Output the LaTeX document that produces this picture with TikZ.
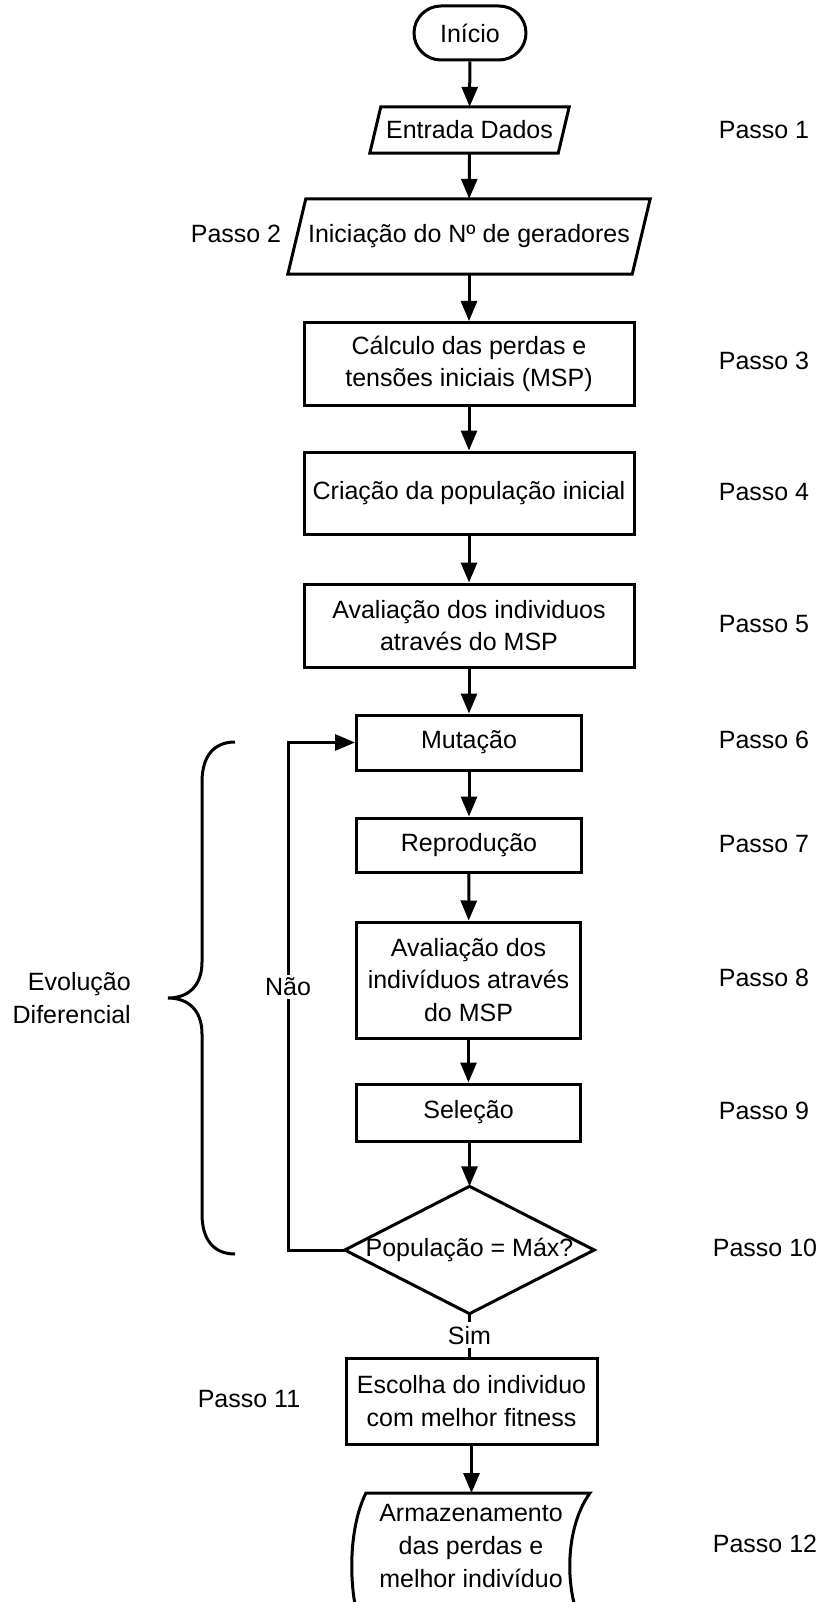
\documentclass[tikz,border=0pt]{standalone}
\usepackage{fontspec}
\setmainfont{Liberation Sans}
\usetikzlibrary{arrows.meta}
\newcommand\dfont{\fontsize{25}{32.6}\selectfont}
\begin{document}
\begin{tikzpicture}[x=1pt,y=-1pt,
  line/.style={line width=3pt},
  arr/.style={line width=3pt,-{Triangle[length=20pt,width=16pt]}},
  box/.style={draw,line width=3pt,inner sep=0pt,align=center,font=\dfont},
  ghost/.style={inner sep=0pt,align=center,font=\dfont},
  lbl/.style={inner sep=1pt,align=center,font=\dfont},
  passo/.style={inner sep=0pt,font=\dfont}]
\useasboundingbox (0,0) rectangle (821,1602);

% start terminator
\node[box,rounded corners=27pt,minimum width=112pt,minimum height=54pt] (start) at (470,33) {Início};

% input parallelograms
\node[ghost,minimum width=188pt,minimum height=46pt] (ent) at (469.5,130) {Entrada Dados};
\draw[line] ([xshift=5.5pt]ent.north west) -- ([xshift=5.5pt]ent.north east)
  -- ([xshift=-5.5pt]ent.south east) -- ([xshift=-5.5pt]ent.south west) -- cycle;
\node[ghost,minimum width=344pt,minimum height=75pt] (ini) at (469,236.5) {Iniciação do Nº de geradores};
\draw[line] ([xshift=9pt]ini.north west) -- ([xshift=9pt]ini.north east)
  -- ([xshift=-9pt]ini.south east) -- ([xshift=-9pt]ini.south west) -- cycle;

% process boxes
\node[box,minimum width=330pt,minimum height=83pt] (calc) at (469,364) {Cálculo das perdas e\\tensões iniciais (MSP)};
\node[box,minimum width=330pt,minimum height=82pt] (cria) at (469,493) {Criação da população inicial};
\node[box,minimum width=330pt,minimum height=83pt] (av1) at (469,625.5) {Avaliação dos individuos\\através do MSP};
\node[box,minimum width=225pt,minimum height=55pt] (mut) at (469,742.5) {Mutação};
\node[box,minimum width=225pt,minimum height=54pt] (rep) at (469,845) {Reprodução};
\node[box,minimum width=224pt,minimum height=116pt] (av2) at (468.5,980) {Avaliação dos\\indivíduos através\\do MSP};
\node[box,minimum width=224pt,minimum height=57pt] (sel) at (468.5,1112.5) {Seleção};

% decision
\node[ghost,minimum width=249pt,minimum height=127pt] (dec) at (469.5,1250) {População = Máx?};
\draw[line] (dec.north) -- (dec.east) -- (dec.south) -- (dec.west) -- cycle;

\node[box,minimum width=251pt,minimum height=86pt] (esc) at (471.5,1401) {Escolha do individuo\\com melhor fitness};

% stored data
\node[ghost] (store) at (471,1546) {Armazenamento\\das perdas e\\melhor indivíduo};
\coordinate (storetop) at (471,1493);
\draw[line] (366,1493) -- (590,1493) .. controls (563,1530) and (563,1602) .. (590,1640)
  -- (366,1640) .. controls (347,1602) and (347,1530) .. (366,1493) -- cycle;

% main flow
\draw[arr] (start) -- (ent);
\draw[arr] (ent) -- (ini);
\draw[arr] (ini) -- (calc);
\draw[arr] (calc) -- (cria);
\draw[arr] (cria) -- (av1);
\draw[arr] (av1.south) -- (av1.south |- mut.north);
\draw[arr] (mut) -- (rep);
\draw[arr] (rep) -- (av2);
\draw[arr] (av2) -- (sel);
\draw[arr] (sel.south) -- (sel.south -| dec.north) -- (dec.north);
\draw[line] (dec.south) -- (dec.south |- esc.north) node[midway,lbl,fill=white,inner sep=4pt] {Sim};
\draw[arr] (esc.south) -- (esc.south |- storetop);

% loop back
\coordinate (loopx) at (288,0);
\draw[arr] (dec.west) -- (dec.west -| loopx) |- (mut.west);
\node[lbl,fill=white,inner sep=3pt] (nao) at (288,987) {Não};

% brace
\draw[line] (235,742) .. controls (214,742) and (202,756) .. (202,782) -- (202,962)
  .. controls (202,986) and (188,998) .. (168,998)
  .. controls (188,998) and (202,1010) .. (202,1034) -- (202,1214)
  .. controls (202,1240) and (214,1254) .. (235,1254);
\node[lbl,align=right,anchor=east] (evo) at (132,998) {Evolução\\Diferencial};

% step labels
\node[passo] (p1) at (764,130) {Passo 1};
\node[passo] (p2) at (236,234) {Passo 2};
\node[passo] (p3) at (764,361) {Passo 3};
\node[passo] (p4) at (764,492) {Passo 4};
\node[passo] (p5) at (764,624) {Passo 5};
\node[passo] (p6) at (764,740) {Passo 6};
\node[passo] (p7) at (764,844) {Passo 7};
\node[passo] (p8) at (764,978) {Passo 8};
\node[passo] (p9) at (764,1111) {Passo 9};
\node[passo] (p10) at (765,1248) {Passo 10};
\node[passo] (p11) at (249,1399) {Passo 11};
\node[passo] (p12) at (765,1544) {Passo 12};
\end{tikzpicture}
\end{document}
